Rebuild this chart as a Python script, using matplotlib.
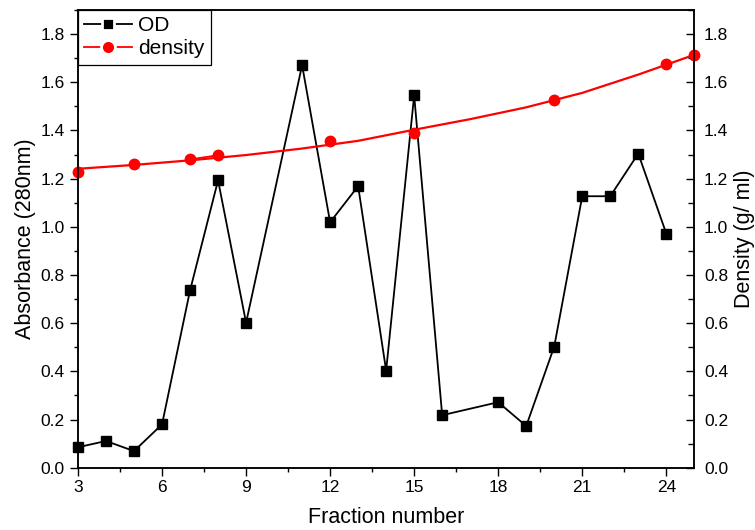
import matplotlib
matplotlib.use("Agg")
import matplotlib.pyplot as plt
from matplotlib.lines import Line2D
from matplotlib.ticker import MultipleLocator, FormatStrFormatter

plt.rcParams['font.family'] = ['Liberation Sans', 'DejaVu Sans']

# OD (absorbance at 280 nm) per fraction
od_x = [3, 4, 5, 6, 7, 8, 9, 11, 12, 13, 14, 15, 16, 18, 19, 20, 21, 22, 23, 24]
od_y = [0.085, 0.111, 0.069, 0.180, 0.736, 1.193, 0.602, 1.671, 1.019, 1.169,
        0.403, 1.546, 0.218, 0.272, 0.173, 0.503, 1.127, 1.127, 1.304, 0.972]

# measured density points
dens_x = [3, 5, 7, 8, 12, 15, 20, 24, 25]
dens_y = [1.229, 1.259, 1.280, 1.297, 1.358, 1.388, 1.525, 1.675, 1.712]

# fitted density curve
fit_x = [3, 5, 7, 9, 11, 13, 15, 17, 19, 21, 23, 25]
fit_y = [1.241, 1.257, 1.276, 1.298, 1.325, 1.357, 1.403, 1.447, 1.496,
         1.556, 1.632, 1.714]

fig = plt.figure(figsize=(7.55, 5.3), dpi=100)
ax = fig.add_axes([0.1033, 0.1175, 0.8163, 0.8636])
ax2 = ax.twinx()

ax.plot(od_x, od_y, color='black', lw=1.3, marker='s', ms=6.5, clip_on=False)

ax2.plot(fit_x, fit_y, color='red', lw=1.6, clip_on=False)
ax2.plot(dens_x[2:4], dens_y[2:4], color='red', lw=1.3)
ax2.plot(dens_x, dens_y, color='red', ls='none', marker='o', ms=7.5, clip_on=False)

for a in (ax, ax2):
    a.set_xlim(3, 25)
    a.set_ylim(0, 1.9)
    a.yaxis.set_major_locator(MultipleLocator(0.2))
    a.yaxis.set_minor_locator(MultipleLocator(0.1))
    a.yaxis.set_major_formatter(FormatStrFormatter('%.1f'))
    for s in a.spines.values():
        s.set_linewidth(1.1)

ax.xaxis.set_major_locator(MultipleLocator(3))
ax.xaxis.set_minor_locator(MultipleLocator(1.5))
ax.tick_params(axis='both', which='major', direction='out', length=5.5, width=1.0,
               labelsize=12.5, pad=4)
ax.tick_params(axis='both', which='minor', direction='out', length=3, width=1.0)
ax.tick_params(axis='x', which='major', pad=3)

ax2.tick_params(axis='y', which='major', direction='in', length=6, width=1.0,
                labelsize=12.5, pad=7)
ax2.tick_params(axis='y', which='minor', direction='in', length=4, width=1.0)

ax.set_xlabel('Fraction number', fontsize=15.5, labelpad=9)
ax.set_ylabel('Absorbance (280nm)', fontsize=15.5, labelpad=3)
ax2.set_ylabel('Density (g/ ml)', fontsize=15.5, labelpad=4)

# legend symbols: line broken around the marker
handles = [
    Line2D([], [], color='black', lw=1.3, marker='s', ms=9, mfc='black',
           mec='white', mew=2),
    Line2D([], [], color='red', lw=1.3, marker='o', ms=10, mfc='red',
           mec='white', mew=2),
]
leg = ax2.legend(handles, ['OD', 'density'], loc='upper left', bbox_to_anchor=(0, 1),
                 borderaxespad=0, fontsize=15, handlelength=2.3, handletextpad=0.3,
                 labelspacing=0.2, borderpad=0.3, fancybox=False, framealpha=1)
leg.get_frame().set_edgecolor('black')
leg.get_frame().set_linewidth(0.9)

fig.savefig('out.png', dpi=100)
